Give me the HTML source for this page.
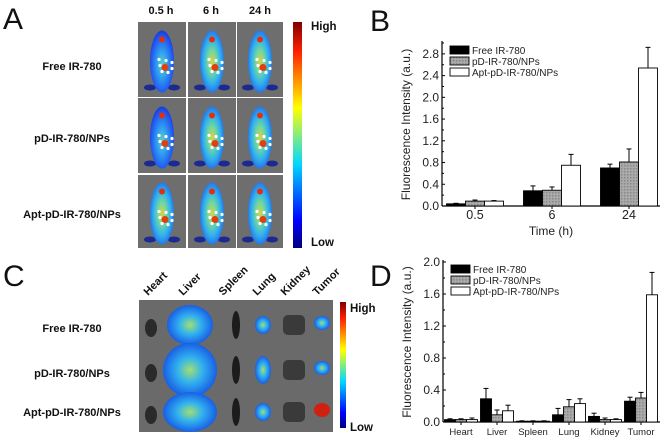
<!DOCTYPE html>
<html><head><meta charset="utf-8"><style>
body{margin:0;background:#fff;width:665px;height:441px;overflow:hidden;font-family:"Liberation Sans",Arial,sans-serif}
svg{position:absolute;left:0;top:0}
</style></head><body>
<svg id="fig" width="665" height="441" viewBox="0 0 665 441">
<defs>
<linearGradient id="cbar" x1="0" y1="1" x2="0" y2="0">
<stop offset="0" stop-color="#00007a"/><stop offset="0.12" stop-color="#0000ff"/><stop offset="0.37" stop-color="#00d8ff"/><stop offset="0.62" stop-color="#ffff00"/><stop offset="0.87" stop-color="#ff2000"/><stop offset="1" stop-color="#800000"/>
</linearGradient>
<radialGradient id="mouse" cx="0.5" cy="0.55" r="0.6"><stop offset="0" stop-color="#60d0c0"/><stop offset="0.35" stop-color="#30a0f0"/><stop offset="0.8" stop-color="#2050f0"/><stop offset="1" stop-color="#1030c0"/></radialGradient>
<radialGradient id="mouseHot" cx="0.5" cy="0.5" r="0.6"><stop offset="0" stop-color="#e0d040"/><stop offset="0.3" stop-color="#70d8a0"/><stop offset="0.6" stop-color="#30b0f0"/><stop offset="1" stop-color="#2050e0"/></radialGradient>
<radialGradient id="organ" cx="0.5" cy="0.5" r="0.6"><stop offset="0" stop-color="#a0e070"/><stop offset="0.4" stop-color="#30b0f0"/><stop offset="1" stop-color="#1040e0"/></radialGradient>
<pattern id="hatch" width="3" height="3" patternUnits="userSpaceOnUse"><rect width="3" height="3" fill="#aaa"/><rect width="1.5" height="1.5" fill="#888"/></pattern>
</defs>
<g id="panelA"></g>
<g id="panelC"></g>
<g id="chartB"></g>
<g id="chartD"></g>
</svg>
<script>
// Chart B data
const bCategories = ["0.5", "6", "24"];
const bFree = [0.04, 0.28, 0.70];
const bPD = [0.09, 0.29, 0.81];
const bApt = [0.09, 0.75, 2.54];
const bFreeErr = [0.01, 0.09, 0.07];
const bPDErr = [0.02, 0.06, 0.24];
const bAptErr = [0.01, 0.20, 0.38];
const bTicks = ["0.0","0.4","0.8","1.2","1.6","2.0","2.4","2.8"];
// Chart D data
const dCategories = ["Heart","Liver","Spleen","Lung","Kidney","Tumor"];
const dFree = [0.03, 0.29, 0.01, 0.09, 0.07, 0.26];
const dPD = [0.03, 0.09, 0.01, 0.19, 0.03, 0.30];
const dApt = [0.03, 0.14, 0.01, 0.23, 0.03, 1.59];
const dFreeErr = [0.01, 0.13, 0.005, 0.08, 0.04, 0.05];
const dPDErr = [0.01, 0.06, 0.005, 0.09, 0.02, 0.07];
const dAptErr = [0.02, 0.07, 0.005, 0.06, 0.01, 0.28];
const dTicks = ["0.0","0.4","0.8","1.2","1.6","2.0"];
const seriesNames = ["Free IR-780","pD-IR-780/NPs","Apt-pD-IR-780/NPs"];

const NS="http://www.w3.org/2000/svg";
function mk(parent,tag,attrs,text){const e=document.createElementNS(NS,tag);for(const k in attrs)e.setAttribute(k,attrs[k]);if(text!==undefined)e.textContent=text;parent.appendChild(e);return e;}

const fills=["#000","url(#hatch)","#fff"];
function drawChart(g,o){
  const y=v=>o.y0-(v/o.ymax)*(o.y0-o.ytop);
  const xc=i=>o.x0+o.first+i*o.step;
  let a=mk(g,'line',{x1:o.x0,y1:o.ytop-2,x2:o.x0,y2:o.y0,stroke:'#000','stroke-width':1.2});
  
  a=mk(g,'line',{x1:o.x0,y1:o.y0,x2:o.x1,y2:o.y0,stroke:'#000','stroke-width':1.2});
  
  o.ticks.forEach(t=>{const v=parseFloat(t);const yy=y(v);
    mk(g,'line',{x1:o.x0,y1:yy,x2:o.x0+3,y2:yy,stroke:'#000'});
    const tl=mk(g,'text',{x:o.x0-3,y:yy+4,'text-anchor':'end','font-size':12,fill:'#222'},t);
    
    if(o.minor){const ym=y(v+o.minor);if(ym>=o.ytop-1){mk(g,'line',{x1:o.x0,y1:ym,x2:o.x0+2,y2:ym,stroke:'#000'});}}
  });
  const series=[o.a,o.b,o.c],errs=[o.ea,o.eb,o.ec];
  o.cats.forEach((c,i)=>{
    const cx=xc(i);
    mk(g,'line',{x1:cx,y1:o.y0,x2:cx,y2:o.y0+3,stroke:'#000'});
    const cl=mk(g,'text',{x:cx,y:o.y0+o.lblDy,'text-anchor':'middle','font-size':o.catFs,fill:'#222'},c);
    
    series.forEach((s,k)=>{
      const bx=cx-1.5*o.bw+k*o.bw, top=y(s[i]), et=y(s[i]+errs[k][i]);
      mk(g,'line',{x1:bx+o.bw/2,y1:top,x2:bx+o.bw/2,y2:et,stroke:'#000','stroke-width':1});
      mk(g,'line',{x1:bx+o.bw/2-2.5,y1:et,x2:bx+o.bw/2+2.5,y2:et,stroke:'#000','stroke-width':1});
      const r=mk(g,'rect',{x:bx,y:top,width:o.bw,height:o.y0-top,fill:fills[k],stroke:'#000','stroke-width':0.9});
      
      
    });
  });
  seriesNames.forEach((n,k)=>{
    const ly=o.ytop+3+k*11;
    const lr=mk(g,'rect',{x:o.x0+8,y:ly,width:19,height:8,fill:fills[k],stroke:'#000','stroke-width':0.9});
    
    const lt=mk(g,'text',{x:o.x0+30,y:ly+8,'font-size':10,fill:'#222'},n);
    
  });
  const yt=mk(g,'text',{x:0,y:0,'text-anchor':'middle','font-size':12,fill:'#222',transform:`translate(${o.x0-32},${(o.ytop+o.y0)/2}) rotate(-90)`},'Fluorescence Intensity (a.u.)');
  
}
const gB=document.getElementById('chartB');
drawChart(gB,{x0:442,x1:660,y0:206,ytop:43,ymax:3.0,ticks:bTicks,minor:0.2,cats:bCategories,first:33,step:77,bw:19,a:bFree,b:bPD,c:bApt,ea:bFreeErr,eb:bPDErr,ec:bAptErr,catFs:12.5,lblDy:13});
let t=mk(gB,'text',{x:551,y:235,'text-anchor':'middle','font-size':12,fill:'#222'},'Time (h)');

t=mk(gB,'text',{x:370,y:31,'font-size':30,fill:'#111'},'B');

const gD=document.getElementById('chartD');
drawChart(gD,{x0:443,x1:660,y0:422,ytop:262,ymax:2.0,ticks:dTicks,minor:0.2,cats:dCategories,first:18,step:36,bw:11,a:dFree,b:dPD,c:dApt,ea:dFreeErr,eb:dPDErr,ec:dAptErr,catFs:9.5,lblDy:13});
t=mk(gD,'text',{x:370,y:286,'font-size':30,fill:'#111'},'D');


// Panel A
const gA=document.getElementById('panelA');
t=mk(gA,'text',{x:3,y:29,'font-size':30,fill:'#111'},'A');

const times=["0.5 h","6 h","24 h"], colX=[138,188,237], rowY=[22,98,175];
const rowsA=["Free IR-780","pD-IR-780/NPs","Apt-pD-IR-780/NPs"], rowLy=[70,142,218];
times.forEach((tm,i)=>{t=mk(gA,'text',{x:colX[i]+23,y:14,'text-anchor':'middle','font-size':11,'font-weight':'bold',fill:'#111'},tm);
  });
rowsA.forEach((r,j)=>{t=mk(gA,'text',{x:72,y:rowLy[j],'text-anchor':'middle','font-size':11,'font-weight':'bold',fill:'#111'},r);
  
  colX.forEach((cx,i)=>{
    const w=(i==2?46:48),h=(j==2?73:75);
    const bg=mk(gA,'rect',{x:cx,y:rowY[j],width:w,height:h,fill:'#6e6e6e'});
    
    const mx=cx+w/2,my=rowY[j]+h/2;
    mk(gA,'ellipse',{cx:mx-12,cy:my+28,rx:6,ry:3,fill:'#1a2a90'});
    mk(gA,'ellipse',{cx:mx+12,cy:my+28,rx:6,ry:3,fill:'#1a2a90'});
    mk(gA,'ellipse',{cx:mx,cy:my+2,rx:12,ry:31,fill:(j==2||i>0)?'url(#mouseHot)':'url(#mouse)'});
    mk(gA,'ellipse',{cx:mx,cy:my-20,rx:3,ry:3,fill:'#e03010'});
    mk(gA,'ellipse',{cx:mx+3,cy:my+8,rx:3.5,ry:3.5,fill:'#e04010'});
    [[-3,0],[4,1],[10,3],[-2,6],[10,9],[0,12],[6,13]].forEach(p=>mk(gA,'circle',{cx:mx+p[0],cy:my+p[1],r:1.6,fill:'#fff'}));
  });
});
let cb=mk(gA,'rect',{x:293,y:22,width:9,height:226,fill:'url(#cbar)'});

t=mk(gA,'text',{x:311,y:30,'font-size':11.5,'font-weight':'bold',fill:'#111'},'High');
t=mk(gA,'text',{x:311,y:246,'font-size':11.5,'font-weight':'bold',fill:'#111'},'Low');

// Panel C
const gC=document.getElementById('panelC');
t=mk(gC,'text',{x:3,y:286,'font-size':30,fill:'#111'},'C');

let bgC=mk(gC,'rect',{x:139,y:300,width:194,height:132,fill:'#6a6a6a'});

const organs=["Heart","Liver","Spleen","Lung","Kidney","Tumor"], orgX=[153,188,228,262,290,322];
organs.forEach((o,i)=>{t=mk(gC,'text',{x:0,y:0,'font-size':11,'font-weight':'bold',fill:'#111',transform:`translate(${orgX[i]-5},${296}) rotate(-45)`},o);
  });
const rowsC=["Free IR-780","pD-IR-780/NPs","Apt-pD-IR-780/NPs"], rowCy=[328,373,412];
rowsC.forEach((r,j)=>{t=mk(gC,'text',{x:72,y:rowCy[j]+4,'text-anchor':'middle','font-size':11,'font-weight':'bold',fill:'#111'},r);
  
  const cy=[325,370,412][j];
  mk(gC,'ellipse',{cx:151,cy:cy+3,rx:6,ry:9,fill:'#2a2a2a'});
  mk(gC,'ellipse',{cx:190,cy:cy,rx:j==0?23:27,ry:j==1?27:20,fill:'url(#organ)'});
  mk(gC,'ellipse',{cx:236,cy:cy,rx:4,ry:14,fill:'#1c1c1c'});
  mk(gC,'ellipse',{cx:263,cy:cy,rx:8,ry:j==1?14:9,fill:'url(#organ)'});
  mk(gC,'rect',{x:283,y:cy-10,width:22,height:20,rx:5,fill:'#3a3a3a'});
  mk(gC,'ellipse',{cx:322,cy:cy-2,rx:8,ry:7,fill:j==2?'#d02010':'url(#organ)'});
});
cb=mk(gC,'rect',{x:340,y:302,width:6,height:126,fill:'url(#cbar)'});

t=mk(gC,'text',{x:350,y:312,'font-size':11.5,'font-weight':'bold',fill:'#111'},'High');
t=mk(gC,'text',{x:350,y:431,'font-size':11.5,'font-weight':'bold',fill:'#111'},'Low');
</script>
</body></html>
